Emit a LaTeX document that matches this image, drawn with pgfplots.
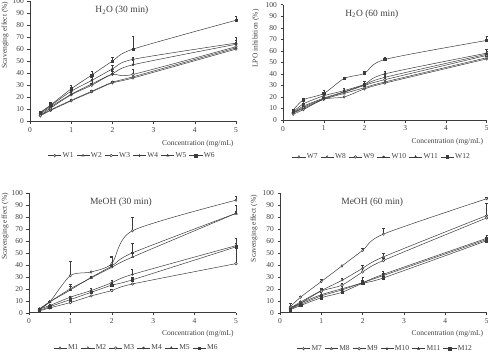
\documentclass[border=0pt]{standalone}
\usepackage{fontspec}
\setmainfont{Liberation Serif}
\usepackage{pgfplots}
\pgfplotsset{compat=1.18}

\definecolor{ink}{HTML}{3C3C3C}
\definecolor{txt}{HTML}{404040}

\newcommand{\smallfont}{\fontsize{7.5}{9}\selectfont}

\pgfplotsset{
  panel/.style={
    scale only axis, clip=false,
    xmin=0, xmax=5, ymin=0, ymax=100,
    axis x line*=bottom, axis y line*=left,
    xtick={0,1,...,5}, ytick={0,10,...,100},
    tick align=outside, major tick length=2.5pt,
    tick style={ink, line width=0.4pt},
    axis line style={ink, line width=0.5pt},
    tick label style={font=\smallfont, text=txt},
    /pgf/number format/assume math mode=true,
    label style={font=\smallfont, text=txt},
    xlabel={Concentration (mg/mL)},
    every axis plot/.append style={ink, line width=0.5pt, smooth, tension=0.45, mark size=1.3pt},
    error bars/y dir=plus, error bars/y explicit,
    error bars/error bar style={ink, line width=0.4pt},
    legend columns=6,
    legend style={draw=none, fill=none, font=\smallfont, text=txt, anchor=center,
      nodes={inner sep=1.2pt},
      /tikz/every even column/.append style={column sep=1.5pt}},
    legend image code/.code={\draw[mark repeat=2,mark phase=2] plot coordinates {(0pt,0pt) (6.5pt,0pt) (13pt,0pt)};},
  },
  s1/.style={mark=diamond*, mark options={fill=white, solid}},
  s2/.style={mark=triangle*, mark options={fill=white, solid}},
  s3/.style={mark=*, mark options={fill=white, solid}},
  s4/.style={mark=*, mark size=1pt, mark options={fill=ink, solid}},
  s5/.style={mark=triangle*, mark options={fill=ink, solid}},
  s6/.style={mark=square*, mark size=1.2pt, mark options={fill=ink, solid}},
}

\begin{document}
\begin{tikzpicture}

% ---------- H2O, 30 min ----------
\begin{axis}[panel, at={(30pt,235.7pt)}, anchor=south west, width=206pt, height=120.3pt,
  ylabel={Scavenging effect (\%)},
  ylabel style={at={(axis description cs:-0.121,0.717)}, anchor=center},
  xlabel style={at={(axis description cs:1.005,-0.186)}, anchor=east},
  legend style={at={(axis description cs:0.495,-0.285)}}]
\addplot[s1] coordinates {(0.25,4.5) +- (0,1) (0.5,9) +- (0,1) (1,17) +- (0,1) (1.5,24.5) +- (0,1) (2,32) +- (0,1) (2.5,36) +- (0,1) (5,60) +- (0,1)};
\addplot[s2] coordinates {(0.25,5) +- (0,1) (0.5,9.5) +- (0,1) (1,17.5) +- (0,1) (1.5,25) +- (0,1) (2,32.5) +- (0,1) (2.5,37) +- (0,2) (5,61) +- (0,1)};
\addplot[s3] coordinates {(0.25,5) +- (0,1) (0.5,11) +- (0,1) (1,22) +- (0,2) (1.5,30) +- (0,2) (2,39) +- (0,3) (2.5,39) +- (0,4) (5,62) +- (0,2)};
\addplot[s4] coordinates {(0.25,6) +- (0,1) (0.5,12) +- (0,1) (1,22.5) +- (0,3) (1.5,31) +- (0,3) (2,39.5) +- (0,3) (2.5,47) +- (0,4) (5,64) +- (0,3)};
\addplot[s5] coordinates {(0.25,7) +- (0,1) (0.5,13) +- (0,2) (1,25) +- (0,3) (1.5,34) +- (0,3) (2,43.5) +- (0,3) (2.5,51.5) +- (0,2) (5,65) +- (0,5)};
\addplot[s6] coordinates {(0.25,7.5) +- (0,1) (0.5,13.5) +- (0,2) (1,27) +- (0,3) (1.5,38.5) +- (0,3) (2,50) +- (0,3) (2.5,60) +- (0,11) (5,84) +- (0,3)};
\legend{W1,W2,W3,W4,W5,W6}
\node[font=\fontsize{9.5}{11}\selectfont, text=txt] at (axis cs:2.23,92) {H\textsubscript{2}O (30 min)};
\end{axis}

% ---------- H2O, 60 min ----------
\begin{axis}[panel, at={(283pt,237pt)}, anchor=south west, width=203.7pt, height=115.3pt,
  ylabel={LPO inhibition (\%)},
  ylabel style={at={(axis description cs:-0.133,0.707)}, anchor=center},
  xlabel style={at={(axis description cs:1.0,-0.19)}, anchor=east},
  legend style={at={(axis description cs:0.484,-0.32)}}]
\addplot[s1] coordinates {(0.25,5) +- (0,1) (0.5,9) +- (0,1) (1,18) +- (0,1) (1.5,20) +- (0,1) (2,27) +- (0,2) (2.5,32) +- (0,1) (5,53) +- (0,2)};
\addplot[s2] coordinates {(0.25,6) +- (0,1) (0.5,10) +- (0,1) (1,18) +- (0,1) (1.5,23) +- (0,1) (2,28) +- (0,2) (2.5,33) +- (0,2) (5,54) +- (0,2)};
\addplot[s3] coordinates {(0.25,6) +- (0,1) (0.5,11) +- (0,1) (1,18.5) +- (0,1) (1.5,24) +- (0,1) (2,30) +- (0,2) (2.5,35) +- (0,2) (5,56) +- (0,2)};
\addplot[s4] coordinates {(0.25,6.5) +- (0,1) (0.5,12) +- (0,1) (1,19) +- (0,1) (1.5,24.5) +- (0,1) (2,30.5) +- (0,3) (2.5,37) +- (0,2) (5,57) +- (0,3)};
\addplot[s5] coordinates {(0.25,7) +- (0,1) (0.5,14) +- (0,1) (1,21) +- (0,2) (1.5,25.5) +- (0,2) (2,31) +- (0,3) (2.5,40) +- (0,2) (5,58) +- (0,3)};
\addplot[s6] coordinates {(0.25,8.5) +- (0,1) (0.5,17.5) +- (0,1) (1,23) +- (0,3) (1.5,36) +- (0,1) (2,40.5) +- (0,2) (2.5,52.5) +- (0,2) (5,69) +- (0,4)};
\legend{W7,W8,W9,W10,W11,W12}
\node[font=\fontsize{9.5}{11}\selectfont, text=txt] at (axis cs:2.18,92) {H\textsubscript{2}O (60 min)};
\end{axis}

% ---------- MeOH, 30 min ----------
\begin{axis}[panel, at={(29pt,44.3pt)}, anchor=south west, width=207pt, height=119.7pt,
  ylabel={Scavenging effect (\%)},
  ylabel style={at={(axis description cs:-0.116,0.72)}, anchor=center},
  xlabel style={at={(axis description cs:1.005,-0.178)}, anchor=east},
  legend style={at={(axis description cs:0.517,-0.295)}}]
\addplot[s1] coordinates {(0.25,3) +- (0,1) (0.5,9) +- (0,1) (1,31) +- (0,12) (1.5,34) +- (0,1) (2,41) +- (0,5) (2.5,68.5) +- (0,11) (5,94) +- (0,3)};
\addplot[s2] coordinates {(0.25,3) +- (0,1) (0.5,9) +- (0,1) (1,20) +- (0,4) (1.5,29) +- (0,1) (2,38) +- (0,2) (2.5,46.5) +- (0,4) (5,83) +- (0,2)};
\addplot[s3] coordinates {(0.25,1.5) +- (0,1) (0.5,4) +- (0,1) (1,8.5) +- (0,1) (1.5,14) +- (0,1) (2,18.5) +- (0,1) (2.5,24) +- (0,1) (5,41) +- (0,14)};
\addplot[s4] coordinates {(0.25,3) +- (0,1) (0.5,6) +- (0,1) (1,13) +- (0,1) (1.5,18.5) +- (0,2) (2,25) +- (0,2) (2.5,32) +- (0,4) (5,56) +- (0,6)};
\addplot[s5] coordinates {(0.25,3) +- (0,1) (0.5,9) +- (0,1) (1,19) +- (0,3) (1.5,29.5) +- (0,1) (2,39) +- (0,8) (2.5,50) +- (0,8) (5,83) +- (0,7)};
\addplot[s6] coordinates {(0.25,2) +- (0,1) (0.5,5) +- (0,1) (1,11) +- (0,1) (1.5,17) +- (0,2) (2,23) +- (0,2) (2.5,27.5) +- (0,2) (5,55) +- (0,3)};
\legend{M1,M2,M3,M4,M5,M6}
\node[font=\fontsize{9.5}{11}\selectfont, text=txt] at (axis cs:2.22,92) {MeOH (30 min)};
\end{axis}

% ---------- MeOH, 60 min ----------
\begin{axis}[panel, at={(280pt,44.3pt)}, anchor=south west, width=206.7pt, height=120pt,
  ylabel={Scavenging effect (\%)},
  ylabel style={at={(axis description cs:-0.126,0.70)}, anchor=center},
  xlabel style={at={(axis description cs:1.0,-0.178)}, anchor=east},
  legend style={at={(axis description cs:0.508,-0.3)}}]
\addplot[s1] coordinates {(0.25,5) +- (0,3) (0.5,13) +- (0,1) (1,26) +- (0,2) (1.5,39) +- (0,1) (2,52) +- (0,2) (2.5,65.5) +- (0,5) (5,95) +- (0,1)};
\addplot[s2] coordinates {(0.25,4) +- (0,1) (0.5,9) +- (0,1) (1,18.5) +- (0,2) (1.5,27) +- (0,2) (2,37) +- (0,3) (2.5,46.5) +- (0,3) (5,81) +- (0,10)};
\addplot[s3] coordinates {(0.25,4) +- (0,1) (0.5,8) +- (0,1) (1,18) +- (0,2) (1.5,23) +- (0,2) (2,34) +- (0,3) (2.5,43.5) +- (0,2) (5,79) +- (0,2)};
\addplot[s4] coordinates {(0.25,3) +- (0,1) (0.5,8) +- (0,1) (1,15) +- (0,2) (1.5,20) +- (0,2) (2,25) +- (0,5) (2.5,32) +- (0,3) (5,62) +- (0,3)};
\addplot[s5] coordinates {(0.25,3) +- (0,1) (0.5,7) +- (0,1) (1,14) +- (0,1) (1.5,19) +- (0,1) (2,25) +- (0,2) (2.5,31) +- (0,2) (5,61) +- (0,2)};
\addplot[s6] coordinates {(0.25,2.5) +- (0,1) (0.5,6) +- (0,1) (1,12.5) +- (0,1) (1.5,17) +- (0,1) (2,24.5) +- (0,2) (2.5,29) +- (0,1) (5,60) +- (0,2)};
\legend{M7,M8,M9,M10,M11,M12}
\node[font=\fontsize{9.5}{11}\selectfont, text=txt] at (axis cs:2.23,92) {MeOH (60 min)};
\end{axis}

\pgfresetboundingbox
\path[use as bounding box] (0pt,0pt) rectangle (488pt,357pt);
\end{tikzpicture}
\end{document}
